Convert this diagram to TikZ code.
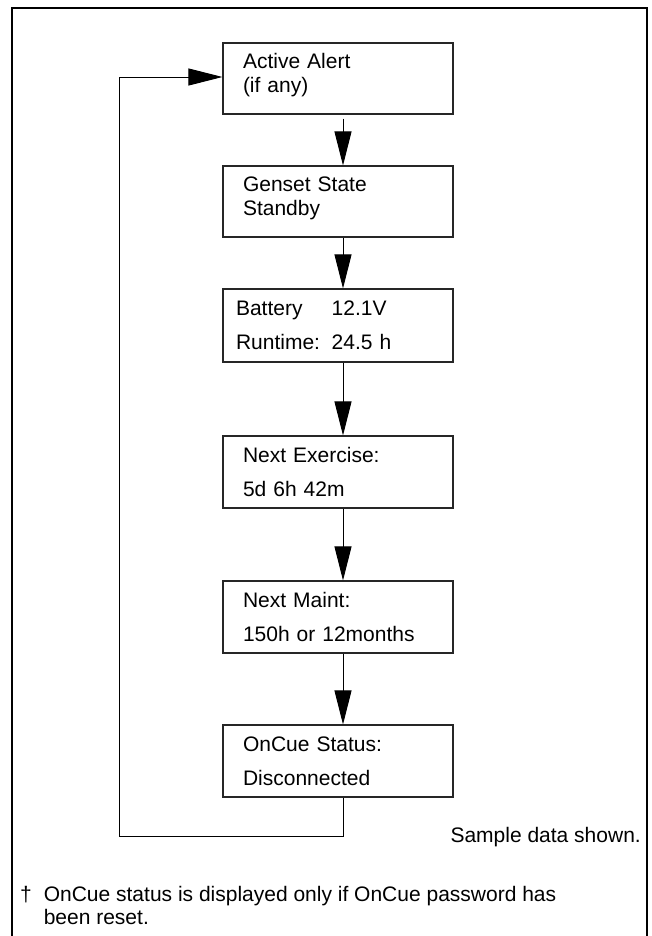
\documentclass[tikz,border=0pt]{standalone}
\usepackage{fontspec}
\setmainfont{Liberation Sans}
\usetikzlibrary{arrows.meta}
\newcommand{\fieldname}[1]{\makebox[95.7pt][l]{#1}}
\newcommand{\lowpad}{\rule[-11pt]{0pt}{0pt}}

\begin{document}
\begin{tikzpicture}[x=1pt,y=-1pt,screen/.style={draw=black!85,line width=1.1pt,fill=white,align=left,font=\fontsize{21}{34}\selectfont,minimum width=230pt,minimum height=72pt,text width=190pt,inner xsep=20pt,inner ysep=0pt},tight/.style={screen,font=\fontsize{21}{24}\selectfont,minimum height=71pt},flow/.style={line width=0.9pt,-{Triangle[length=34pt,width=17pt]}},frame/.style={line width=2.5pt},note/.style={font=\fontsize{21}{23}\selectfont,inner sep=0pt,align=left}]
\useasboundingbox (0,0) rectangle (652,936);
\draw[frame] (12,940) -- (12,8) -- (647,8) -- (647,940);
\node[tight] (alert) at (338,78.5) {Active Alert\\(if any)\lowpad};
\node[tight] (genset) at (338,201.5) {Genset State\\Standby\lowpad};\draw[flow,shorten <=4pt] ([xshift=5pt]alert.south) -- ([xshift=5pt]genset.north);
\node[screen,inner xsep=13pt,text width=204pt,minimum height=73pt] (battery) at (338,325.5) {\fieldname{Battery}12.1V\\\fieldname{Runtime:}24.5 h};\draw[flow] ([xshift=5pt]genset.south) -- ([xshift=5pt]battery.north);
\node[screen] (exercise) at (338,472) {Next Exercise:\\5d 6h 42m};\draw[flow] ([xshift=5pt]battery.south) -- ([xshift=5pt]exercise.north);
\node[screen] (maint) at (338,617) {Next Maint:\\150h or 12months};\draw[flow] ([xshift=5pt]exercise.south) -- ([xshift=5pt]maint.north);
\node[screen] (oncue) at (338,761) {OnCue Status:\\Disconnected};\draw[flow] ([xshift=5pt]maint.south) -- ([xshift=5pt]oncue.north);
\coordinate (loopcorner) at (119,836);
\draw[flow] ([xshift=5pt]oncue.south) |- (loopcorner) |- ([yshift=1.5pt]alert.west);
\node[note,anchor=base east] (sample) at (641,842.5) {Sample data shown.};
\node[note,anchor=north west] (footnote) at (20,886) {\makebox[23.6pt][l]{†}OnCue status is displayed only if OnCue password has\\\hspace*{23.6pt}been reset.};
\end{tikzpicture}
\end{document}
